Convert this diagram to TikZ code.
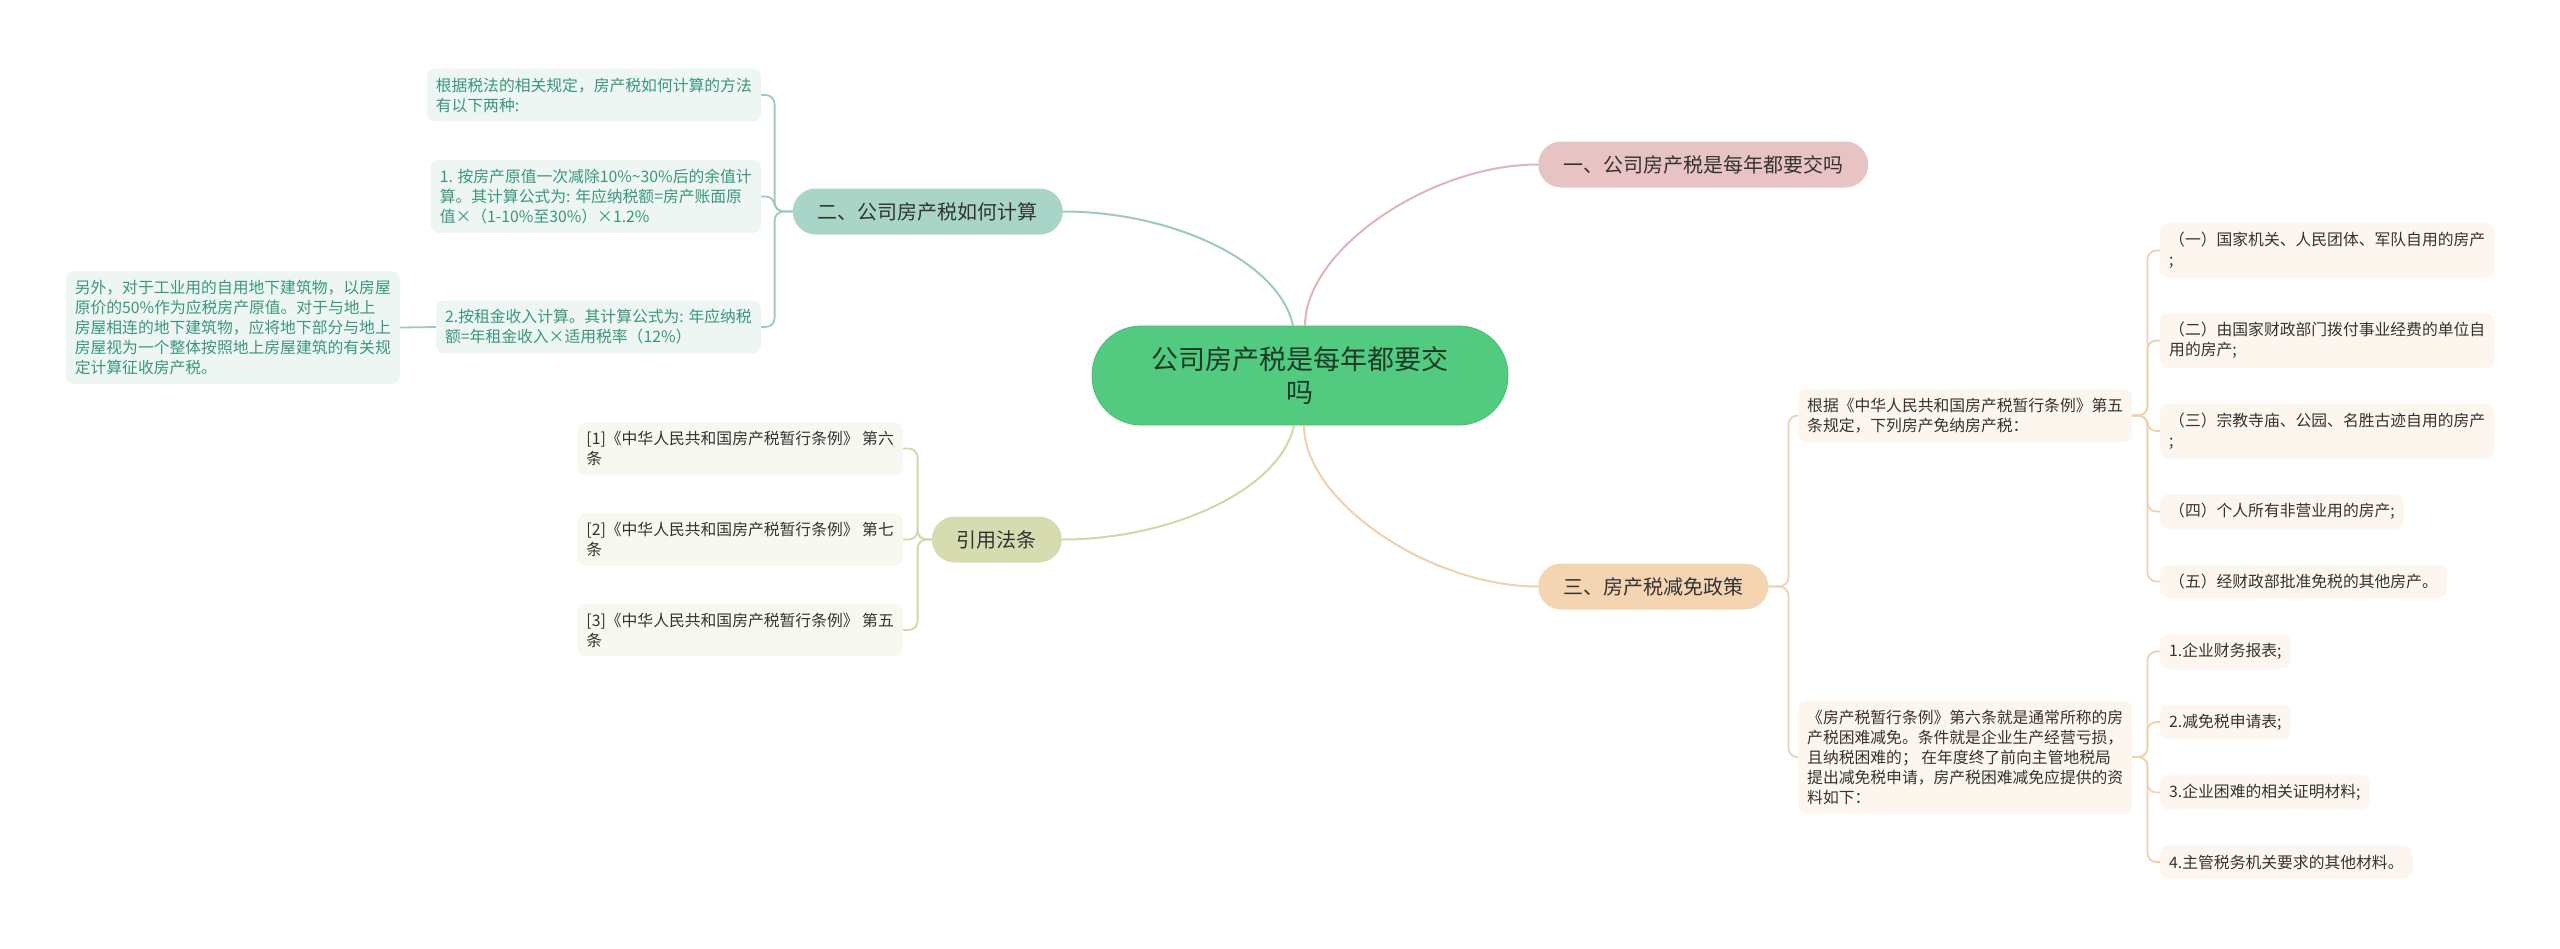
\documentclass[tikz,border=0pt]{standalone}
\usepackage{fontspec}
\setmainfont{Noto Sans CJK SC}

\definecolor{hubfill}{HTML}{52CB80}
\definecolor{hubtext}{HTML}{1C3A28}
\definecolor{pinkfill}{HTML}{E7C3C3}
\definecolor{pinkline}{HTML}{DEB6B6}
\definecolor{tealfill}{HTML}{A9D5C8}
\definecolor{tealline}{HTML}{9CCBBE}
\definecolor{tealleaf}{HTML}{EEF6F3}
\definecolor{tealtext}{HTML}{3A9680}
\definecolor{peachfill}{HTML}{F5D4B2}
\definecolor{peachline}{HTML}{F0D0AD}
\definecolor{peachleaf}{HTML}{FDF6EE}
\definecolor{olivefill}{HTML}{D6DBB0}
\definecolor{oliveline}{HTML}{D2D7AA}
\definecolor{oliveleaf}{HTML}{F7F8EF}
\definecolor{leaftext}{HTML}{333333}

\begin{document}
\begin{tikzpicture}[x=1pt,y=-1pt,
  hub/.style={rectangle,rounded corners=49pt,fill=hubfill,draw=hubfill!92!black,line width=0.8pt,
    minimum width=416pt,minimum height=99pt,align=center,text=hubtext,font=\fontsize{27pt}{33pt}\selectfont},
  branch/.style={rectangle,rounded corners=23pt,minimum height=46pt,inner xsep=25pt,
    text=leaftext,font=\fontsize{20pt}{24pt}\selectfont},
  leaf/.style={rectangle,rounded corners=8pt,inner xsep=9pt,inner ysep=9pt,align=left,
    text=leaftext,font=\fontsize{15.8pt}{20pt}\selectfont},
  link/.style={line width=2pt},
  fork/.style={line width=1.8pt,rounded corners=9pt}]
  \useasboundingbox (0,0) rectangle (2560,948);

  % central topic
  \node[hub] (hub) at (1300,375.5) {公司房产税是每年都要交\\吗};

  % main branches
  \node[branch,fill=pinkfill,anchor=west] (b1) at (1538,164.5) {一、公司房产税是每年都要交吗};
  \node[branch,fill=tealfill,anchor=east] (b2) at (1063,211.5) {二、公司房产税如何计算};
  \node[branch,fill=peachfill,anchor=west] (b3) at (1538,586.5) {三、房产税减免政策};
  \node[branch,fill=olivefill,anchor=east] (b4) at (1062,539.5) {引用法条};

  \draw[link,pinkline] ([xshift=5pt]hub.north) .. controls +(0,-76) and +(-108,0) .. (b1.west);
  \draw[link,tealline] ([xshift=-7pt]hub.north) .. controls +(-14,-65) and +(108,0) .. (b2.east);
  \draw[link,peachline] ([xshift=4pt]hub.south) .. controls +(0,76) and +(-108,0) .. (b3.west);
  \draw[link,oliveline] ([xshift=-6pt]hub.south) .. controls +(-14,65) and +(108,0) .. (b4.east);

  % how to compute
  \node[leaf,fill=tealleaf,text=tealtext,anchor=east] (ta) at (761,95)
    {根据税法的相关规定，房产税如何计算的方法\\有以下两种:};
  \node[leaf,fill=tealleaf,text=tealtext,anchor=east] (tb) at (761,196.5)
    {1. 按房产原值一次减除10\%\textasciitilde30\%后的余值计\\算。其计算公式为: 年应纳税额=房产账面原\\值×（1-10\%至30\%）×1.2\%};
  \node[leaf,fill=tealleaf,text=tealtext,anchor=east] (tc) at (761,327)
    {2.按租金收入计算。其计算公式为: 年应纳税\\额=年租金收入×适用税率（12\%）};
  \node[leaf,fill=tealleaf,text=tealtext,anchor=east] (td) at (400,327.5)
    {另外，对于工业用的自用地下建筑物，以房屋\\原价的50\%作为应税房产原值。对于与地上\\房屋相连的地下建筑物，应将地下部分与地上\\房屋视为一个整体按照地上房屋建筑的有关规\\定计算征收房产税。};

  \foreach \leafname in {ta,tb,tc}
    \draw[fork,tealline] (b2.west) -- ++(-18,0) |- (\leafname.east);
  \draw[fork,tealline] (tc.west) -- (td.east);

  % cited articles
  \node[leaf,fill=oliveleaf,anchor=east] (qa) at (903,448.5)
    {[1]《中华人民共和国房产税暂行条例》 第六\\条};
  \node[leaf,fill=oliveleaf,anchor=east] (qb) at (903,539.5)
    {[2]《中华人民共和国房产税暂行条例》 第七\\条};
  \node[leaf,fill=oliveleaf,anchor=east] (qc) at (903,630)
    {[3]《中华人民共和国房产税暂行条例》 第五\\条};

  \foreach \leafname in {qa,qb,qc}
    \draw[fork,oliveline] (b4.west) -- ++(-14,0) |- (\leafname.east);

  % relief policy
  \node[leaf,fill=peachleaf,anchor=west] (ra) at (1798,415.5)
    {根据《中华人民共和国房产税暂行条例》第五\\条规定，下列房产免纳房产税：};
  \node[leaf,fill=peachleaf,anchor=west] (rb) at (1798,757)
    {《房产税暂行条例》第六条就是通常所称的房\\产税困难减免。条件就是企业生产经营亏损，\\且纳税困难的； 在年度终了前向主管地税局\\提出减免税申请，房产税困难减免应提供的资\\料如下：};

  \foreach \leafname in {ra,rb}
    \draw[fork,peachline] (b3.east) -- ++(20,0) |- (\leafname.west);

  \node[leaf,fill=peachleaf,anchor=west] (sa) at (2160,250.5) {（一）国家机关、人民团体、军队自用的房产\\;};
  \node[leaf,fill=peachleaf,anchor=west] (sb) at (2160,340.5) {（二）由国家财政部门拨付事业经费的单位自\\用的房产;};
  \node[leaf,fill=peachleaf,anchor=west] (sc) at (2160,431) {（三）宗教寺庙、公园、名胜古迹自用的房产\\;};
  \node[leaf,fill=peachleaf,anchor=west] (sd) at (2160,511.5) {（四）个人所有非营业用的房产;};
  \node[leaf,fill=peachleaf,anchor=west] (se) at (2160,581.5) {（五）经财政部批准免税的其他房产。};

  \foreach \leafname in {sa,sb,sc,sd,se}
    \draw[fork,peachline] (ra.east) -- ++(15,0) |- (\leafname.west);

  \node[leaf,fill=peachleaf,anchor=west] (ma) at (2160,651.5) {1.企业财务报表;};
  \node[leaf,fill=peachleaf,anchor=west] (mb) at (2160,722) {2.减免税申请表;};
  \node[leaf,fill=peachleaf,anchor=west] (mc) at (2160,792.5) {3.企业困难的相关证明材料;};
  \node[leaf,fill=peachleaf,anchor=west] (md) at (2160,862) {4.主管税务机关要求的其他材料。};

  \foreach \leafname in {ma,mb,mc,md}
    \draw[fork,peachline] (rb.east) -- ++(15,0) |- (\leafname.west);
\end{tikzpicture}
\end{document}
